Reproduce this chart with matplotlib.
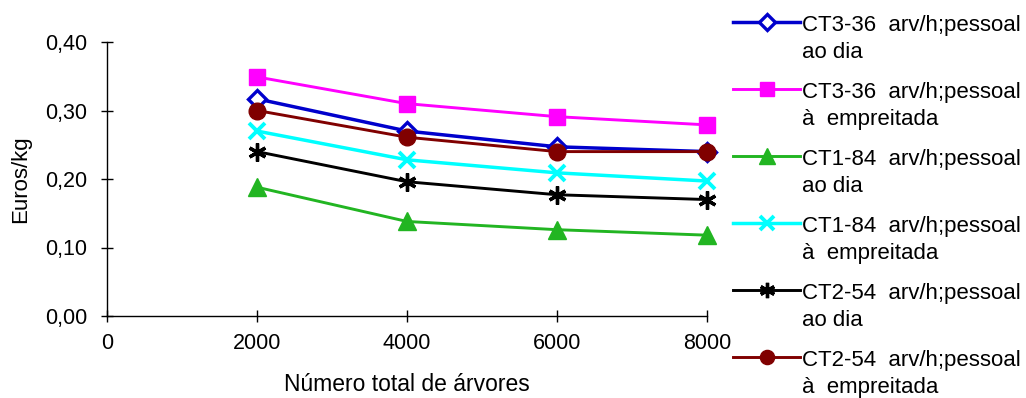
import matplotlib

matplotlib.use("Agg")
import matplotlib.pyplot as plt  # noqa: I001
from matplotlib.lines import Line2D
from matplotlib.ticker import FuncFormatter

plt.rcParams["font.family"] = ["Liberation Sans", "DejaVu Sans"]

# data
trees = [2000, 4000, 6000, 8000]
ct3_dia = [0.317, 0.270, 0.247, 0.240]
ct3_empreitada = [0.349, 0.310, 0.291, 0.279]
ct1_dia = [0.188, 0.138, 0.126, 0.118]
ct1_empreitada = [0.270, 0.228, 0.209, 0.197]
ct2_dia = [0.240, 0.196, 0.177, 0.170]
ct2_empreitada = [0.300, 0.261, 0.240, 0.240]

labels = [
    "CT3-36  arv/h;pessoal\nao dia",
    "CT3-36  arv/h;pessoal\nà  empreitada",
    "CT1-84  arv/h;pessoal\nao dia",
    "CT1-84  arv/h;pessoal\nà  empreitada",
    "CT2-54  arv/h;pessoal\nao dia",
    "CT2-54  arv/h;pessoal\nà  empreitada",
]
values = [ct3_dia, ct3_empreitada, ct1_dia, ct1_empreitada, ct2_dia, ct2_empreitada]

styles = [
    dict(color="#0000CC", marker="D", markersize=9, markerfacecolor="white",
         markeredgewidth=2.4),
    dict(color="#FF00FF", marker="s", markersize=12),
    dict(color="#22B522", marker="^", markersize=13),
    dict(color="#00FFFF", marker="x", markersize=12, markeredgewidth=2.8),
    dict(color="#000000", marker=(6, 2, 0), markersize=13, markeredgewidth=2.4),
    dict(color="#800000", marker="o", markersize=12),
]
line_widths = [2.5, 2.1, 2.1, 2.5, 2.1, 2.1]
legend_marker_scale = 0.85

fig = plt.figure(figsize=(10.26, 3.98), dpi=100)
ax = fig.add_axes([107 / 1026, 1 - 316 / 398, 600 / 1026, 274 / 398])

for vals, style, lw in zip(values, styles, line_widths):
    ax.plot(trees, vals, linewidth=lw, zorder=3, clip_on=False, **style)

ax.set_xlim(0, 8000)
ax.set_ylim(0, 0.40)
ax.set_xticks(range(0, 8001, 2000))
ax.set_yticks([0, 0.1, 0.2, 0.3, 0.4])
ax.yaxis.set_major_formatter(FuncFormatter(lambda v, _: f"{v:.2f}".replace(".", ",")))
ax.tick_params(direction="inout", length=8, width=1, labelsize=15.5, colors="black")
ax.tick_params(axis="y", pad=10)
ax.tick_params(axis="x", pad=8)
for side in ("top", "right"):
    ax.spines[side].set_visible(False)
for side in ("left", "bottom"):
    ax.spines[side].set_linewidth(1)

ax.set_xlabel("Número total de árvores", fontsize=16.5, labelpad=14)
ax.set_ylabel("Euros/kg", fontsize=16, labelpad=10)

# legend drawn by hand: handle sits on the first line of each label
for i, (label, style, lw) in enumerate(zip(labels, styles, line_widths)):
    y = 1 - (22 + 67 * i) / 398
    small = dict(style)
    small["markersize"] = style["markersize"] * legend_marker_scale
    fig.add_artist(Line2D([733 / 1026, 800 / 1026], [y, y], linewidth=lw,
                          transform=fig.transFigure, color=style["color"]))
    fig.add_artist(Line2D([767 / 1026], [y], linestyle="none",
                          transform=fig.transFigure, **small))
    # va="baseline" pins the last line's baseline
    fig.text(802 / 1026, 1 - (58 + 67 * i) / 398, label, fontsize=16,
             va="baseline", ha="left", linespacing=1.35,
             transform=fig.transFigure)

fig.savefig("out.png", dpi=100)
